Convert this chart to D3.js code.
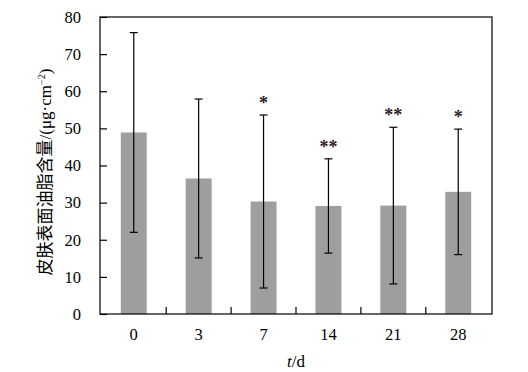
<!DOCTYPE html>
<html>
<head>
<meta charset="utf-8">
<script src="https://cdn.jsdelivr.net/npm/d3@7"></script>
<style>
    body { margin: 0; background: #fff; }
    svg text { font-family: "Liberation Serif", "Times New Roman", serif; }
</style>
</head>
<body>
<svg id="chart"></svg>
<script>
const days = ['0', '3', '7', '14', '21', '28'];
const means = [48.9, 36.5, 30.3, 29.1, 29.2, 32.9];
const sds = [26.9, 21.4, 23.3, 12.7, 21.1, 16.9];
const marks = ['', '', '*', '**', '**', '*'];
const yTicks = [0, 10, 20, 30, 40, 50, 60, 70, 80];

const WIDTH = 528;
const HEIGHT = 372;
const MARGIN = { top: 17, right: 36, bottom: 58, left: 100 };
const INNER_WIDTH = WIDTH - MARGIN.left - MARGIN.right;
const INNER_HEIGHT = HEIGHT - MARGIN.top - MARGIN.bottom;

const svg = d3.select('#chart')
    .attr('width', WIDTH)
    .attr('height', HEIGHT);

const g = svg.append('g')
    .attr('transform', 'translate(' + MARGIN.left + ',' + MARGIN.top + ')');

const x = d3.scaleBand()
    .domain(days)
    .range([0, INNER_WIDTH])
    .paddingInner(0.6)
    .paddingOuter(0.32);

const y = d3.scaleLinear()
    .domain([0, 80])
    .range([INNER_HEIGHT, 0]);

const data = days.map((d, i) => ({ day: d, mean: means[i], sd: sds[i], mark: marks[i] }));

// bars
g.selectAll('.bar')
    .data(data)
    .join('rect')
    .attr('class', 'bar')
    .attr('x', d => x(d.day))
    .attr('width', x.bandwidth())
    .attr('y', d => y(d.mean))
    .attr('height', d => INNER_HEIGHT - y(d.mean))
    .attr('fill', '#9d9e9d');

// error bars
const cap = 4;
const err = g.selectAll('.err')
    .data(data)
    .join('g')
    .attr('class', 'err')
    .attr('transform', d => 'translate(' + (x(d.day) + x.bandwidth() / 2) + ',0)')
    .attr('stroke', '#000')
    .attr('stroke-width', 1.2);
err.append('line')
    .attr('y1', d => y(d.mean + d.sd))
    .attr('y2', d => y(d.mean - d.sd));
err.append('line')
    .attr('x1', -cap).attr('x2', cap)
    .attr('y1', d => y(d.mean + d.sd))
    .attr('y2', d => y(d.mean + d.sd));
err.append('line')
    .attr('x1', -cap).attr('x2', cap)
    .attr('y1', d => y(d.mean - d.sd))
    .attr('y2', d => y(d.mean - d.sd));

// significance marks
g.selectAll('.mark')
    .data(data.filter(d => d.mark))
    .join('text')
    .attr('class', 'mark')
    .attr('x', d => x(d.day) + x.bandwidth() / 2)
    .attr('y', d => y(d.mean + d.sd) - 6)
    .attr('text-anchor', 'middle')
    .attr('font-size', 18)
    .attr('font-weight', 'bold')
    .attr('fill', '#2a1a30')
    .text(d => d.mark);

// frame
g.append('rect')
    .attr('width', INNER_WIDTH)
    .attr('height', INNER_HEIGHT)
    .attr('fill', 'none')
    .attr('stroke', '#000')
    .attr('stroke-width', 1.2);

// y axis, ticks pointing inward
const yAxis = d3.axisLeft(y)
    .tickValues(yTicks)
    .tickSizeInner(-7)
    .tickSizeOuter(0)
    .tickPadding(19);
const yg = g.append('g').call(yAxis);
yg.select('.domain').remove();
yg.selectAll('line').attr('stroke-width', 1.2);
yg.selectAll('text')
    .attr('font-size', 16.5)
    .attr('font-family', '"Liberation Serif", serif')
    .attr('fill', '#000');

// x axis labels
const xAxis = d3.axisBottom(x).tickSize(0).tickPadding(14);
const xg = g.append('g')
    .attr('transform', 'translate(0,' + INNER_HEIGHT + ')')
    .call(xAxis);
xg.select('.domain').remove();
xg.selectAll('text')
    .attr('font-size', 16.5)
    .attr('font-family', '"Liberation Serif", serif')
    .attr('fill', '#000');

// x ticks between the bars
const bounds = days.slice(1).map(d => x(d) - x.step() * x.paddingInner() / 2);
g.selectAll('.xtick')
    .data(bounds)
    .join('line')
    .attr('class', 'xtick')
    .attr('x1', d => d).attr('x2', d => d)
    .attr('y1', INNER_HEIGHT).attr('y2', INNER_HEIGHT - 7)
    .attr('stroke', '#000')
    .attr('stroke-width', 1.2);

// axis titles
const xt = svg.append('text')
    .attr('x', MARGIN.left + INNER_WIDTH / 2)
    .attr('y', 367)
    .attr('text-anchor', 'middle')
    .attr('font-size', 17);
xt.append('tspan').attr('font-style', 'italic').text('t');
xt.append('tspan').text('/d');

const yt = svg.append('text')
    .attr('transform', 'translate(51,' + 172 + ') rotate(-90)')
    .attr('text-anchor', 'middle')
    .attr('font-size', 17);
yt.append('tspan')
    .attr('font-family', '"Noto Sans CJK SC", sans-serif')
    .attr('font-size', 17)
    .text('皮肤表面油脂含量');
yt.append('tspan').text('/(μg·cm');
yt.append('tspan').attr('font-size', 10).attr('dy', -6).text('−2');
yt.append('tspan').attr('dy', 6).text(')');
</script>
</body>
</html>
